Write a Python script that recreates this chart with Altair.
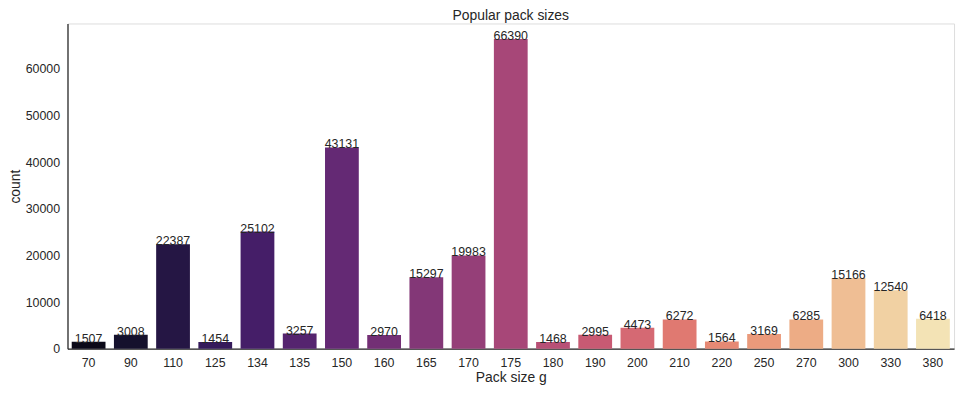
import colorsys
import altair as alt
import pandas as pd
import numpy as np

pack_sizes = ["70", "90", "110", "125", "134", "135", "150", "160", "165", "170", "175",
              "180", "190", "200", "210", "220", "250", "270", "300", "330", "380"]
counts = [1507, 3008, 22387, 1454, 25102, 3257, 43131, 2970, 15297, 19983, 66390,
          1468, 2995, 4473, 6272, 1564, 3169, 6285, 15166, 12540, 6418]
y_ticks = [0, 10000, 20000, 30000, 40000, 50000, 60000]

# magma colormap stops (0, 0.1, ..., 1.0)
magma_stops = ["#000004", "#140e36", "#3b0f70", "#641a80", "#8c2981", "#b73779",
               "#de4968", "#f7705c", "#fe9f6d", "#fecf92", "#fcfdbf"]


def hex2rgb(h):
    return np.array([int(h[i:i + 2], 16) for i in (1, 3, 5)], dtype=float) / 255.0


stops = np.array([hex2rgb(h) for h in magma_stops])
xs = np.linspace(0, 1, len(magma_stops))
n = len(pack_sizes)
ts = np.linspace(0, 1, n + 2)[1:-1]
palette = []
for t in ts:
    rgb = [np.interp(t, xs, stops[:, k]) for k in range(3)]
    h, l, s = colorsys.rgb_to_hls(*rgb)
    r, g, b = colorsys.hls_to_rgb(h, l, s * 0.75)
    palette.append("#%02x%02x%02x" % (round(r * 255), round(g * 255), round(b * 255)))

df = pd.DataFrame({"pack": pack_sizes, "count": counts})

FONT = "Liberation Sans"
TXT = "#262626"

x = alt.X("pack:N", sort=pack_sizes,
          scale=alt.Scale(paddingInner=0.2, paddingOuter=0.1),
          axis=alt.Axis(title="Pack size g", labelAngle=0, tickSize=0, labelPadding=8,
                        titlePadding=2, domainColor=TXT, domainWidth=1.25,
                        labelFontSize=12.5, titleFontSize=14, titleFontWeight="normal",
                        labelColor=TXT, titleColor=TXT, labelFont=FONT, titleFont=FONT))
y = alt.Y("count:Q",
          scale=alt.Scale(domain=[0, 69709.5], nice=False, zero=True),
          axis=alt.Axis(title="count", values=y_ticks, format="d",
                        tickSize=0, labelPadding=8, titlePadding=3, grid=False,
                        domainColor=TXT, domainWidth=1.25,
                        labelFontSize=12.5, titleFontSize=14, titleFontWeight="normal",
                        labelColor=TXT, titleColor=TXT, labelFont=FONT, titleFont=FONT))

bars = alt.Chart(df).mark_bar().encode(
    x=x, y=y,
    color=alt.Color("pack:N", sort=pack_sizes,
                    scale=alt.Scale(domain=pack_sizes, range=palette), legend=None),
)

labels = alt.Chart(df).mark_text(
    baseline="alphabetic", align="center", fontSize=12.5, font=FONT, color=TXT, dy=1
).encode(
    x=alt.X("pack:N", sort=pack_sizes),
    y="count:Q",
    text="count:Q",
)

chart = alt.layer(bars, labels).properties(
    width=894, height=328,
    title=alt.Title("Popular pack sizes", fontSize=14, font=FONT, fontWeight="normal",
                    color=TXT, offset=1),
    autosize=alt.AutoSizeParams(type="none"),
    padding={"left": 60, "top": 14, "right": 5, "bottom": 40},
).configure_view(stroke=None).configure(background="white")

chart.save("out.html", embed_options={"renderer": "svg", "actions": False})
